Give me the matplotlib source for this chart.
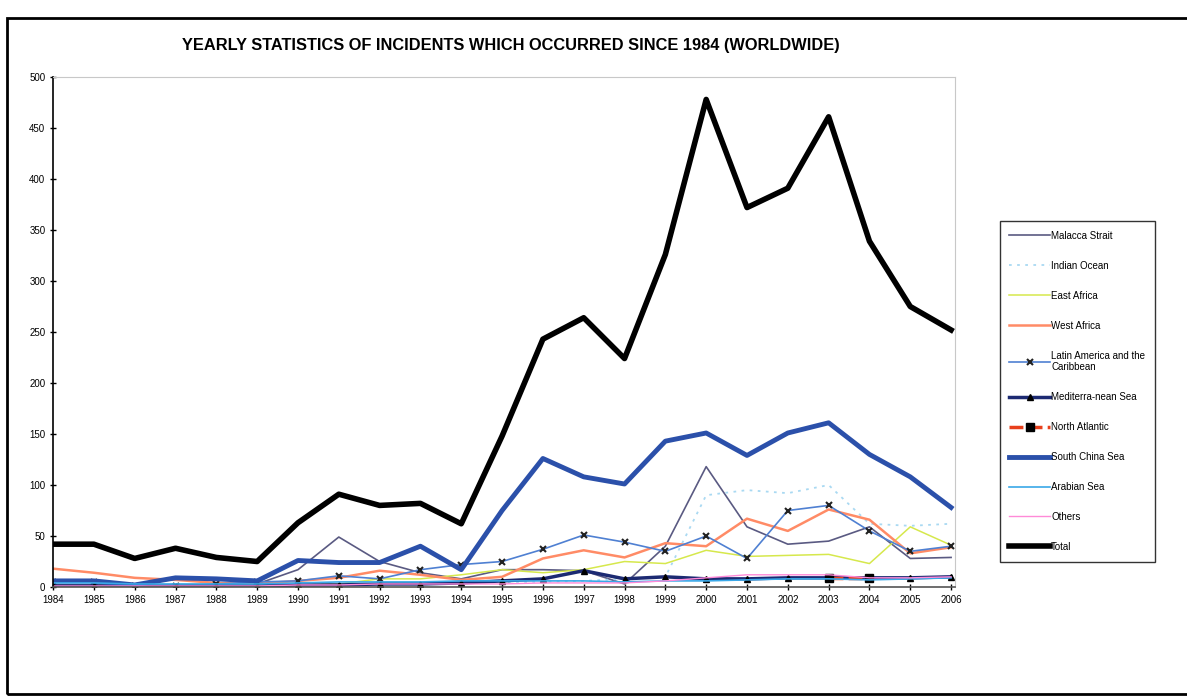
import numpy as np
import matplotlib
matplotlib.use("Agg")
import matplotlib.pyplot as plt
from matplotlib.patches import Rectangle

plt.rcParams['font.family'] = ['Liberation Sans', 'DejaVu Sans']

nan = np.nan

years = list(range(1984, 2007))

malacca = [2, 2, 1, 1, 2, 3, 17, 49, 25, 14, 8, 17, 17, 16, 3, 40, 118, 59, 42, 45, 59, 28, 29]
indian_ocean = [1, 1, 1, 1, 1, 1, 2, 3, 3, 4, 4, 5, 5, 6, 8, 10, 90, 95, 92, 100, 62, 60, 62]
east_africa = [1, 1, 1, 1, 1, 1, 2, 3, 8, 8, 12, 17, 14, 17, 25, 23, 36, 30, 31, 32, 23, 59, 41]
west_africa = [18, 14, 9, 7, 4, 3, 6, 9, 16, 12, 7, 10, 28, 36, 29, 43, 40, 67, 55, 76, 66, 33, 39]
latin_america = [5, 5, 1, 1, 3, 5, 6, 11, 8, 17, 22, 25, 37, 51, 44, 35, 50, 28, 75, 80, 55, 35, 40]
mediterranean = [1, 1, 1, 1, 1, 1, 2, 2, 3, 3, 4, 6, 8, 16, 8, 10, 8, 8, 9, 9, 9, 9, 10]
north_atlantic = [nan] * 19 + [9, 9, nan, nan]
south_china_sea = [6, 6, 2, 9, 8, 6, 26, 24, 24, 40, 17, 75, 126, 108, 101, 143, 151, 129, 151, 161, 130, 108, 78]
arabian_sea = [4, 4, 3, 3, 3, 3, 4, 5, 5, 5, 6, 6, 6, 6, 5, 6, 6, 7, 8, 8, 7, 8, 9]
others = [1, 1, 1, 1, 1, 1, 2, 2, 3, 3, 3, 3, 4, 4, 4, 6, 9, 12, 12, 12, 9, 9, 10]
total = [42, 42, 28, 38, 29, 25, 63, 91, 80, 82, 62, 148, 243, 264, 224, 326, 478, 372, 391, 461, 339, 275, 252]

fig = plt.figure(figsize=(11.87, 7), dpi=100)
ax = fig.add_axes([0.0447, 0.1614, 0.76, 0.7286])

ax.plot(years, malacca, color='#5a5a82', lw=1.2, label='Malacca Strait')
ax.plot(years, indian_ocean, color='#a9d9f2', lw=1.3, ls=(0, (1.5, 3)), label='Indian Ocean')
ax.plot(years, east_africa, color='#d6e84c', lw=1.1, label='East Africa')
ax.plot(years, west_africa, color='#ff8b66', lw=1.8, label='West Africa')
ax.plot(years, latin_america, color='#4f80d2', lw=1.2, marker='x', ms=5, mec='#222222', mew=1.5,
        label='Latin America and the\nCaribbean')
ax.plot(years, mediterranean, color='#1c2a72', lw=2.5, marker='^', ms=5, mfc='black', mec='black',
        label='Mediterra-nean Sea')
ax.plot(years, north_atlantic, color='#e8401c', lw=2.5, ls=(0, (4, 1.5)), marker='s', ms=6,
        mfc='black', mec='black', label='North Atlantic')
ax.plot(years, south_china_sea, color='#2b50aa', lw=3.5, label='South China Sea')
ax.plot(years, arabian_sea, color='#3aa8e8', lw=1.2, label='Arabian Sea')
ax.plot(years, others, color='#ff8ad8', lw=1.0, label='Others')
ax.plot(years, total, color='black', lw=4, label='Total')

ax.set_xlim(1984, 2006.1)
ax.set_ylim(0, 500)
ax.set_yticks(range(0, 501, 50))
ax.set_xticks(years)
ax.set_xticklabels([str(y) for y in years])
ax.tick_params(axis='both', labelsize=7, length=4, direction='inout', width=1)
ax.tick_params(axis='x', pad=4)
for s in ['top', 'right']:
    ax.spines[s].set_color('#c8c8c8')
    ax.spines[s].set_linewidth(0.8)
ax.spines['left'].set_linewidth(1.2)
ax.spines['bottom'].set_linewidth(1.2)
ax.spines['bottom'].set_color('#555555')

leg = fig.legend(loc='upper left', bbox_to_anchor=(0.838, 0.691), ncol=1,
                 fontsize=7, frameon=True, fancybox=False, edgecolor='black',
                 handlelength=4.2, handletextpad=0.1, labelspacing=2.05,
                 borderpad=1.0)
leg.get_frame().set_linewidth(1.0)

fig.text(0.43, 0.935, 'YEARLY STATISTICS OF INCIDENTS WHICH OCCURRED SINCE 1984 (WORLDWIDE)',
         ha='center', va='center', fontsize=11.8, fontweight='bold')

# scanned page border
fig.patches.append(Rectangle((0.006, 0.008), 1.1, 0.966, transform=fig.transFigure,
                             fill=False, edgecolor='black', lw=2))

fig.savefig('out.png', dpi=100)
